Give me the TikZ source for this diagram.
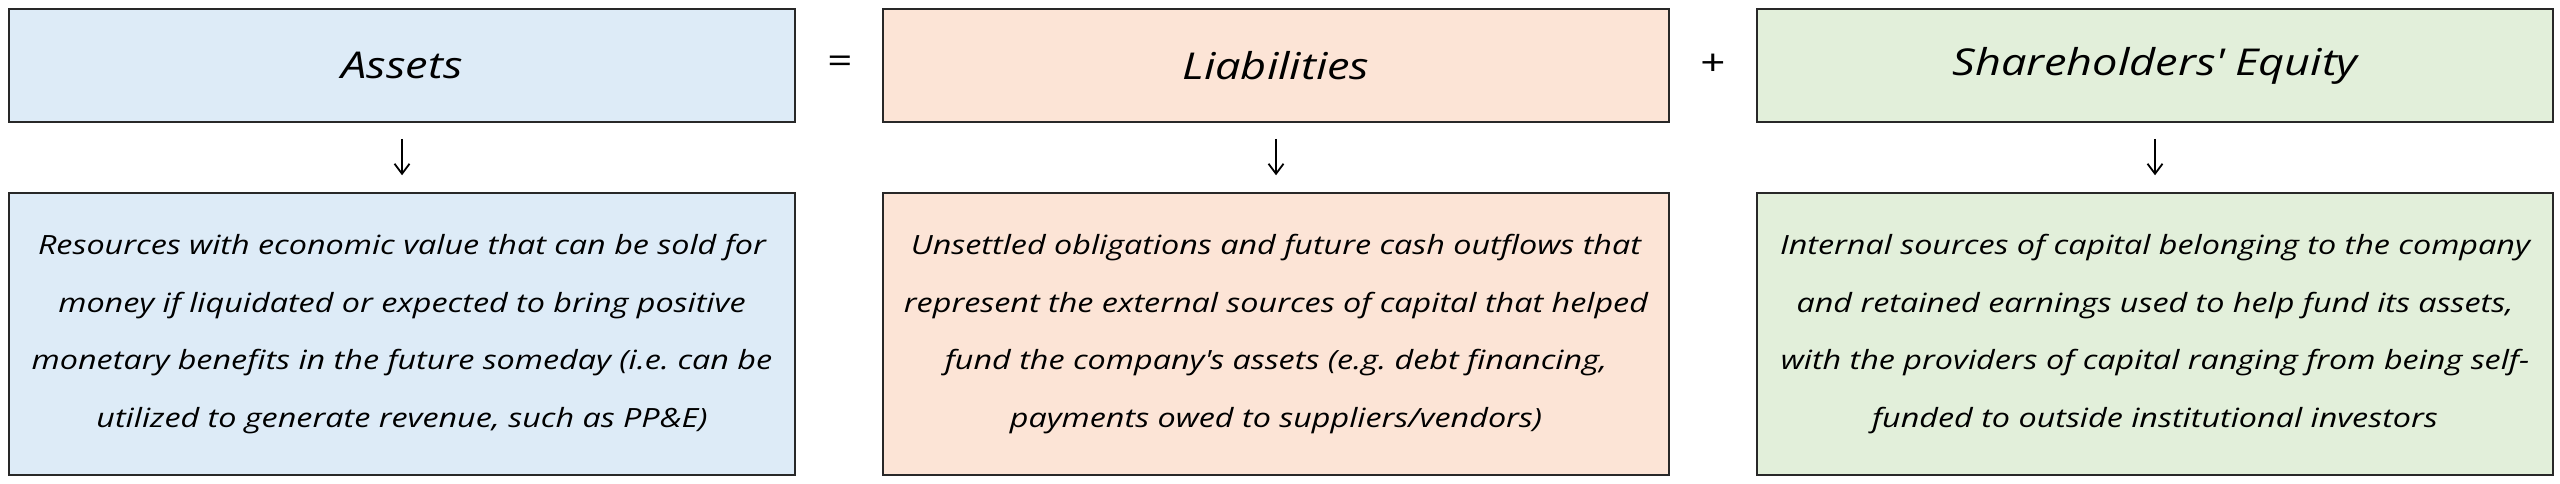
\documentclass[tikz,border=0pt]{standalone}
\usepackage{fontspec}
\setmainfont{Open Sans}[FakeStretch=1.22]
\usetikzlibrary{arrows.meta}
\definecolor{assetfill}{RGB}{221,235,247}
\definecolor{liabfill}{RGB}{252,228,214}
\definecolor{eqfill}{RGB}{226,239,218}
\definecolor{edge}{RGB}{40,40,40}
\tikzset{
  headbox/.style={draw=edge, line width=1.5pt, minimum height=113pt, inner sep=0pt,
    font=\fontsize{37}{44}\selectfont\itshape},
  descbox/.style={draw=edge, line width=1.5pt, minimum height=282pt, inner sep=0pt,
    align=center, font=\fontsize{26.5}{57.7}\selectfont\itshape\frenchspacing},
  opsign/.style={font=\fontsize{36}{40}\selectfont, inner sep=0pt},
  downarrow/.style={line width=1.8pt, -{Straight Barb[length=10pt,width=15pt,line width=1.8pt]},
    shorten <=16pt, shorten >=17pt}
}
\begin{document}
\begin{tikzpicture}[x=1pt,y=-1pt]
\useasboundingbox (0,0) rectangle (2560,483);
% header boxes
\node[headbox, fill=assetfill, minimum width=786pt] (assets) at (402,65.5) {Assets};
\node[headbox, fill=liabfill, minimum width=786pt] (liab) at (1276,65.5) {Liabilities};
\node[headbox, fill=eqfill, minimum width=796pt] (equity) at (2155,65.5) {Shareholders\textquotesingle\ Equity};
% operators
\node[opsign] (eq) at (840,65) {=};
\node[opsign] (plus) at (1713,65) {+};
% description boxes
\node[descbox, fill=assetfill, minimum width=786pt] (assetsd) at (402,334) {Resources with economic value that can be sold for\\money if liquidated or expected to bring positive\\monetary benefits in the future someday (i.e. can be\\utilized to generate revenue, such as PP\&E)};
\node[descbox, fill=liabfill, minimum width=786pt] (liabd) at (1276,334) {Unsettled obligations and future cash outflows that\\represent the external sources of capital that helped\\fund the company\textquotesingle s assets (e.g. debt financing,\\payments owed to suppliers/vendors)};
\node[descbox, fill=eqfill, minimum width=796pt] (equityd) at (2155,334) {Internal sources of capital belonging to the company\\and retained earnings used to help fund its assets,\\with the providers of capital ranging from being self-\\funded to outside institutional investors};
% arrows
\draw[downarrow] (assets) -- (assetsd);
\draw[downarrow] (liab) -- (liabd);
\draw[downarrow] (equity) -- (equityd);
\end{tikzpicture}
\end{document}
